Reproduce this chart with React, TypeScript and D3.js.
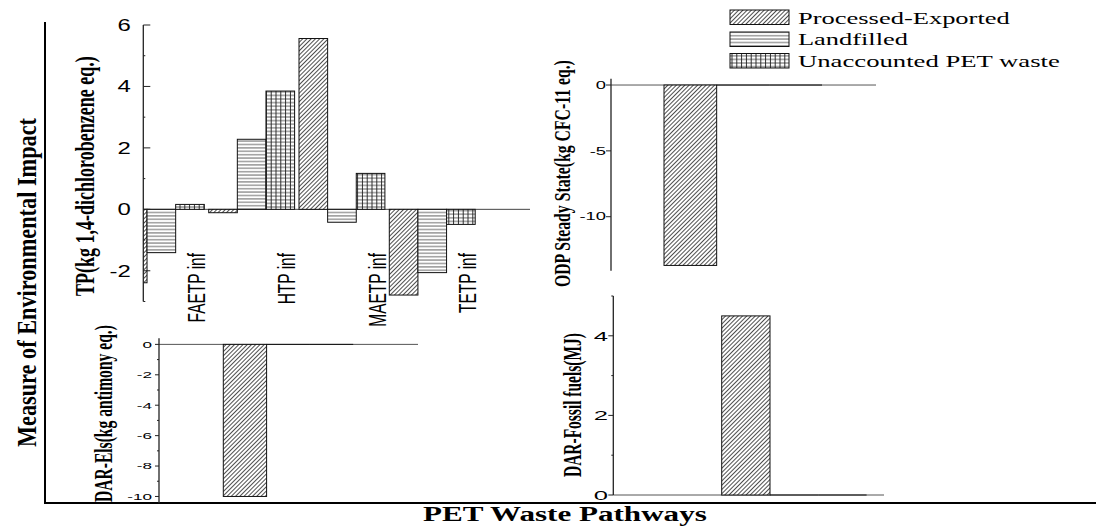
import React, { useRef, useState, useLayoutEffect } from "react";
import * as d3 from "d3";

// ---------- data ----------
const seriesNames = ["Processed-Exported", "Landfilled", "Unaccounted PET waste"];
const tpCategories = ["FAETP inf", "HTP inf", "MAETP inf", "TETP inf"];
const tpProcessed = [-2.39, -0.11, 5.56, -2.79];
const tpLandfilled = [-1.41, 2.28, -0.42, -2.06];
const tpUnaccounted = [0.16, 3.85, 1.17, -0.49];
const tpTicks = [-2, 0, 2, 4, 6];
const tpMinor = [-3, -1, 1, 3, 5];

const odpValues = [-13.7, 0, 0];
const odpTicks = [0, -5, -10];

const darElsValues = [-10.0, 0, 0];
const darElsTicks = [0, -2, -4, -6, -8, -10];
const darElsMinor = [-1, -3, -5, -7, -9];

const fossilValues = [4.5, 0, 0];
const fossilTicks = [0, 2, 4];
const fossilMinor = [1, 3, 5];

const patternIds = ["pDiag", "pHoriz", "pGrid"];

const SANS = "'Liberation Sans', Arial, sans-serif";
const SERIF = "'Liberation Serif', 'Times New Roman', serif";

// text scaled along its direction so that it spans `target` pixels
function FitText({ x, y, rot = 0, target, fontSize, text, weight = "normal", family = SERIF, dy = "0" }) {
  const ref = useRef(null);
  const [k, setK] = useState(1);
  useLayoutEffect(() => {
    if (ref.current) {
      const w = ref.current.getComputedTextLength();
      if (w > 0) setK(target / w);
    }
  }, [target, text, fontSize]);
  return (
    <text
      ref={ref}
      transform={`translate(${x},${y}) rotate(${rot}) scale(${k},1)`}
      dy={dy}
      textAnchor="start"
      fontFamily={family}
      fontWeight={weight}
      fontSize={fontSize}
      fill="#000"
    >
      {text}
    </text>
  );
}

function Bars({ x0, inner, y, values }) {
  return (
    <g>
      {values.map((v, i) => {
        const s = seriesNames[i];
        const bx = x0 + inner(s);
        const w = inner.bandwidth();
        if (v === 0) {
          return <line key={i} x1={bx} x2={bx + w} y1={y(0)} y2={y(0)} stroke="#111" strokeWidth={1} />;
        }
        const top = Math.min(y(v), y(0));
        const h = Math.abs(y(v) - y(0));
        return (
          <rect key={i} x={bx} y={top} width={w} height={h} fill={`url(#${patternIds[i]})`} stroke="#111" strokeWidth={1} />
        );
      })}
    </g>
  );
}

function YAxis({ x, y, ticks, minor = [], dir, majorLen, minorLen, labelRight, fontSize, sx }) {
  const [d0, d1] = y.domain();
  return (
    <g>
      <line x1={x} x2={x} y1={y(d0)} y2={y(d1)} stroke="#222" strokeWidth={1.3} />
      {ticks.map((t) => (
        <g key={"t" + t}>
          <line x1={x} x2={x + dir * majorLen} y1={y(t)} y2={y(t)} stroke="#222" strokeWidth={1} />
          <text
            transform={`translate(${labelRight},${y(t)}) scale(${sx},1)`}
            dy="0.36em"
            textAnchor="end"
            fontFamily={SANS}
            fontSize={fontSize}
            fill="#000"
          >
            {t}
          </text>
        </g>
      ))}
      {minor.map((t) => (
        <line key={"m" + t} x1={x} x2={x + dir * minorLen} y1={y(t)} y2={y(t)} stroke="#222" strokeWidth={1} />
      ))}
    </g>
  );
}

export default function App() {
  // TP panel
  const tpX = d3.scaleBand().domain(tpCategories).range([118.4, 475.2]).paddingInner(0.0487).paddingOuter(0);
  const tpInner = d3.scaleBand().domain(seriesNames).range([0, tpX.bandwidth()]);
  const tpY = d3.scaleLinear().domain([-3, 6]).range([301.5, 25]);
  const tpAxisX = 143.3;

  // ODP panel
  const odpX = d3.scaleBand().domain(seriesNames).range([664, 822]);
  const odpY = d3.scaleLinear().domain([-14.1, 0.48]).range([270.7, 78.7]);

  // DAR-Els panel
  const darX = d3.scaleBand().domain(seriesNames).range([223.3, 353.2]);
  const darY = d3.scaleLinear().domain([-10.45, 0.4]).range([503.3, 338.3]);

  // Fossil panel
  const fosX = d3.scaleBand().domain(seriesNames).range([721.7, 866.6]);
  const fosY = d3.scaleLinear().domain([0, 5]).range([495, 296]);

  const legendRows = [
    { y: 10, base: 23.5, len: 212 },
    { y: 32, base: 44.5, len: 110 },
    { y: 53.5, base: 66.5, len: 262 },
  ];

  return (
    <svg
      width={1096}
      height={527}
      style={{ position: "absolute", left: 0, top: 0, display: "block", background: "#fff" }}
    >
      <defs>
        <pattern id="pDiag" patternUnits="userSpaceOnUse" width={3.0} height={6} patternTransform="rotate(45)">
          <rect width={3.0} height={6} fill="#fff" />
          <line x1={1.5} x2={1.5} y1={0} y2={6} stroke="#222" strokeWidth={0.8} />
        </pattern>
        <pattern id="pHoriz" patternUnits="userSpaceOnUse" width={10} height={3.4}>
          <rect width={10} height={3.4} fill="#fff" />
          <line x1={0} x2={10} y1={1.7} y2={1.7} stroke="#333" strokeWidth={0.8} />
        </pattern>
        <pattern id="pGrid" patternUnits="userSpaceOnUse" width={4.8} height={3.6}>
          <rect width={4.8} height={3.6} fill="#fff" />
          <line x1={0} x2={4.8} y1={1.8} y2={1.8} stroke="#333" strokeWidth={0.8} />
          <line x1={2.4} x2={2.4} y1={0} y2={3.6} stroke="#222" strokeWidth={0.9} />
        </pattern>
        <clipPath id="tpClip">
          <rect x={tpAxisX} y={0} width={500} height={527} />
        </clipPath>
      </defs>

      {/* outer frame */}
      <line x1={45} x2={45} y1={22} y2={504} stroke="#000" strokeWidth={2} />
      <line x1={44} x2={1096} y1={503} y2={503} stroke="#000" strokeWidth={2} />
      <FitText x={27} y={447} rot={-90} dy="0.33em" target={329} fontSize={27} weight="bold" text="Measure of Environmental Impact" />
      <FitText x={423} y={521} target={284} fontSize={21} weight="bold" text="PET Waste Pathways" />

      {/* TP panel */}
      <line x1={tpAxisX} x2={530} y1={tpY(0)} y2={tpY(0)} stroke="#444" strokeWidth={1} />
      <g clipPath="url(#tpClip)">
        {tpCategories.map((c, i) => (
          <Bars key={c} x0={tpX(c)} inner={tpInner} y={tpY} values={[tpProcessed[i], tpLandfilled[i], tpUnaccounted[i]]} />
        ))}
      </g>
      <YAxis x={tpAxisX} y={tpY} ticks={tpTicks} minor={tpMinor} dir={1} majorLen={7} minorLen={2} labelRight={130.7} fontSize={16.5} sx={1.45} />
      {tpCategories.map((c) => (
        <text
          key={"lbl" + c}
          transform={`translate(${tpX(c) + 78},253) rotate(-90) scale(1,1.55)`}
          dy="0.36em"
          textAnchor="end"
          fontFamily={SANS}
          fontSize={15.5}
          fill="#000"
        >
          {c}
        </text>
      ))}
      <FitText x={85} y={296} rot={-90} dy="0.33em" target={240} fontSize={27} weight="bold" text="TP(kg 1,4-dichlorobenzene eq.)" />

      {/* ODP panel */}
      <line x1={611} x2={876} y1={odpY(0)} y2={odpY(0)} stroke="#555" strokeWidth={1} />
      <Bars x0={0} inner={odpX} y={odpY} values={odpValues} />
      <YAxis x={611} y={odpY} ticks={odpTicks} dir={-1} majorLen={5} minorLen={2} labelRight={606} fontSize={10.5} sx={1.75} />
      <FitText x={562} y={287} rot={-90} dy="0.33em" target={227} fontSize={24} weight="bold" text="ODP Steady State(kg CFC-11 eq.)" />

      {/* DAR-Els panel */}
      <line x1={159} x2={418} y1={darY(0)} y2={darY(0)} stroke="#555" strokeWidth={1} />
      <Bars x0={0} inner={darX} y={darY} values={darElsValues} />
      <YAxis x={159} y={darY} ticks={darElsTicks} minor={darElsMinor} dir={-1} majorLen={4} minorLen={2} labelRight={152} fontSize={9.5} sx={1.8} />
      <FitText x={104} y={502} rot={-90} dy="0.33em" target={177} fontSize={25} weight="bold" text="DAR-Els(kg antimony eq.)" />

      {/* Fossil panel */}
      <line x1={613.3} x2={884} y1={fosY(0)} y2={fosY(0)} stroke="#555" strokeWidth={1} />
      <Bars x0={0} inner={fosX} y={fosY} values={fossilValues} />
      <YAxis x={613.3} y={fosY} ticks={fossilTicks} minor={fossilMinor} dir={-1} majorLen={5} minorLen={2} labelRight={608} fontSize={13.5} sx={1.9} />
      <FitText x={573} y={477} rot={-90} dy="0.33em" target={144} fontSize={25} weight="bold" text="DAR-Fossil fuels(MJ)" />

      {/* legend */}
      {seriesNames.map((s, i) => (
        <g key={"leg" + s}>
          <rect x={730} y={legendRows[i].y} width={59} height={14.5} fill={`url(#${patternIds[i]})`} stroke="#111" strokeWidth={1} />
          <FitText x={798} y={legendRows[i].base} target={legendRows[i].len} fontSize={17.5} text={s} />
        </g>
      ))}
    </svg>
  );
}
